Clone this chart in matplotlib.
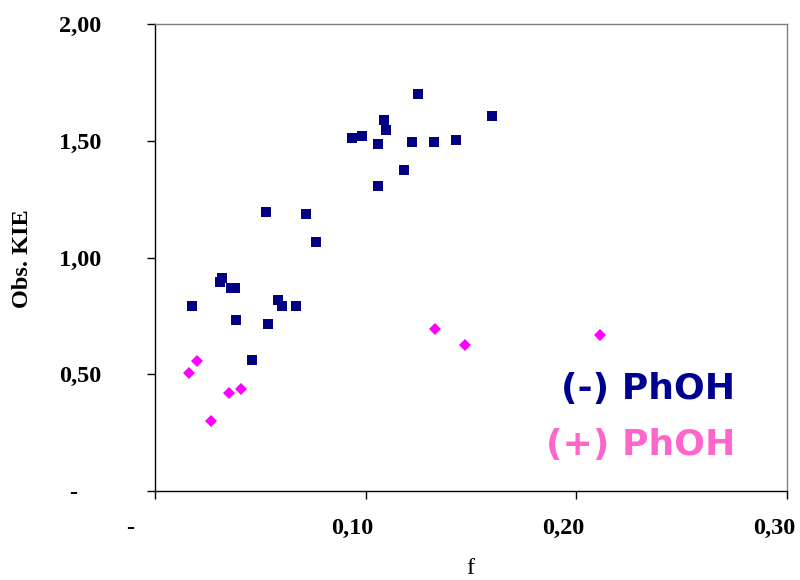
import matplotlib
matplotlib.use("Agg")
import matplotlib.pyplot as plt
from matplotlib.transforms import ScaledTranslation

# ---- data ----
minus_f = [0.0174, 0.0316, 0.0308, 0.0359, 0.0379, 0.0384, 0.0460, 0.0526, 0.0536,
           0.0583, 0.0603, 0.0670, 0.0717, 0.0763, 0.0934, 0.0982, 0.1058, 0.1058,
           0.1087, 0.1096, 0.1180, 0.1219, 0.1248, 0.1322, 0.1427, 0.1599]
minus_kie = [0.791, 0.911, 0.896, 0.868, 0.868, 0.732, 0.560, 1.194, 0.714,
             0.818, 0.791, 0.791, 1.185, 1.065, 1.510, 1.519, 1.486, 1.306,
             1.589, 1.546, 1.373, 1.493, 1.699, 1.493, 1.502, 1.606]
plus_f = [0.0161, 0.0199, 0.0265, 0.0351, 0.0408, 0.1328, 0.1471, 0.2114]
plus_kie = [0.505, 0.557, 0.300, 0.420, 0.437, 0.692, 0.624, 0.668]

x_ticks = [0.0, 0.10, 0.20, 0.30]
x_ticklabels = ["-", "0,10", "0,20", "0,30"]
y_ticks = [0.0, 0.5, 1.0, 1.5, 2.0]
y_ticklabels = ["-", "0,50", "1,00", "1,50", "2,00"]

label_minus = "(-) PhOH"
label_plus = "(+) PhOH"

# ---- figure ----
fig = plt.figure(figsize=(8, 5.8), dpi=100)
ax = fig.add_axes([155/800, 1-491/580, (787-155)/800, (491-24)/580])

ax.plot(minus_f, minus_kie, linestyle="none", marker="s", markersize=7.7,
        markerfacecolor="#000080", markeredgewidth=0, zorder=3)
ax.plot(plus_f, plus_kie, linestyle="none", marker="D", markersize=6.6,
        markerfacecolor="#FF00FF", markeredgewidth=0, zorder=3)

ax.set_xlim(0, 0.30)
ax.set_ylim(0, 2.0)

tick_font = dict(family="Liberation Serif", weight="bold", size=17.5)
ax.set_xticks(x_ticks)
ax.set_xticklabels(x_ticklabels, fontdict=tick_font)
ax.set_yticks(y_ticks)
ax.set_yticklabels(y_ticklabels, fontdict=tick_font)

ax.tick_params(axis="both", direction="out", length=5.5, width=1.0, color="black")
ax.tick_params(axis="x", pad=14)
ax.tick_params(axis="y", pad=33)

# shift labels to mimic accounting format padding
for lbl in ax.get_xticklabels():
    dx = -25/100 if lbl.get_text() == "-" else -13/100
    lbl.set_transform(lbl.get_transform() + ScaledTranslation(dx, 0, fig.dpi_scale_trans))
for lbl in ax.get_yticklabels():
    if lbl.get_text() == "-":
        lbl.set_transform(lbl.get_transform() + ScaledTranslation(-24/100, 0, fig.dpi_scale_trans))

for side in ("left", "bottom"):
    ax.spines[side].set_color("black")
    ax.spines[side].set_linewidth(1.0)
for side in ("top", "right"):
    ax.spines[side].set_color("#808080")
    ax.spines[side].set_linewidth(1.0)

fig.text(23/800, 1-259/580, "Obs. KIE", rotation=90, ha="center", va="center",
         family="Liberation Serif", weight="bold", size=17.5)
fig.text(470/800, 1-568/580, "f", ha="center", va="center",
         family="Liberation Serif", size=17.5)

fig.text(735/800, 1-389.5/580, label_minus, ha="right", va="center",
         family="DejaVu Sans", weight="bold", size=26, color="#000090")
fig.text(735/800, 1-445.5/580, label_plus, ha="right", va="center",
         family="DejaVu Sans", weight="bold", size=26, color="#FF66CC")

fig.savefig("out.png", dpi=100)
